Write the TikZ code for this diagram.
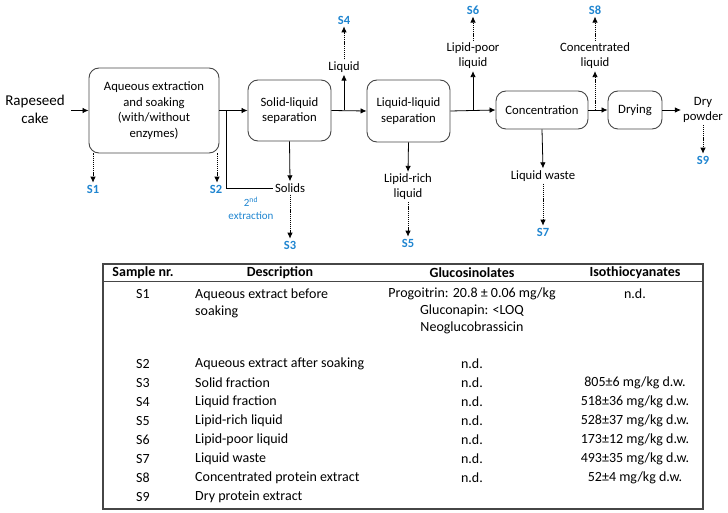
\documentclass[tikz,border=0pt]{standalone}
\usepackage{fontspec}
\setmainfont{Carlito}
\usepackage{tikz}
\usetikzlibrary{positioning, calc}
\usetikzlibrary{arrows, arrows.meta}
\definecolor{sblue}{RGB}{31,133,208}
\definecolor{boxgray}{RGB}{70,70,70}

\tikzset{
  proc/.style={draw=boxgray, line width=0.9pt, rounded corners=10pt, align=center,
    font=\fontsize{12.7}{15.5}\selectfont},
  lbl/.style={align=center, font=\fontsize{12.7}{15}\selectfont, inner sep=2pt},
  smp/.style={text=sblue, font=\bfseries\fontsize{12.5}{14}\selectfont, inner sep=2pt},
  flow/.style={-{Latex[length=6pt, width=5.5pt]}, line width=0.8pt},
  take/.style={-{Latex[length=6pt, width=5.5pt]}, line width=0.8pt, dash pattern=on 1.2pt off 0.9pt},
  tab/.style={font=\fontsize{14}{17}\selectfont, inner sep=1pt},
  tabhead/.style={font=\bfseries\fontsize{14}{17}\selectfont, inner sep=1pt},
}

\begin{document}
\begin{tikzpicture}[x=1pt, y=-1pt]
            \useasboundingbox (0,0) rectangle (728,513);
            % process chain
            \node[lbl, font=\fontsize{15}{18}\selectfont] (cake) at (35,109) {Rapeseed\\cake};
            \node[proc, minimum width=130pt, minimum height=85pt] (extr) at (154,110.5) {Aqueous extraction\\and soaking\\(with/without\\enzymes)};
            \node[proc, minimum width=83pt, minimum height=61pt] (slsep) at (289.5,110.5) {Solid-liquid\\separation};
            \node[proc, minimum width=83pt, minimum height=62pt] (llsep) at (408.5,111) {Liquid-liquid\\separation};
            \node[proc, minimum width=92pt, minimum height=38pt] (conc) at (542,110) {Concentration};
            \node[proc, minimum width=54pt, minimum height=38pt] (dry) at (635,110) {Drying};
            % streams
            \node[lbl] (liquid) at (344,67) {Liquid};
            \node[lbl] (solids) at (290,188) {Solids};
            \node[lbl] (lrich) at (408,187) {Lipid-rich\\liquid};
            \node[lbl] (lpoor) at (473,56) {Lipid-poor\\liquid};
            \node[lbl] (waste) at (543,176) {Liquid waste};
            \node[lbl] (cliq) at (595,56) {Concentrated\\liquid};
            \node[lbl] (powder) at (703,110) {Dry\\powder};
            \node[lbl, text=sblue, font=\fontsize{11}{13}\selectfont] (second) at (251,208) {2\textsuperscript{nd}\\extraction};
            % samples
            \node[smp] (s1) at (93,189) {S1};
            \node[smp] (s2) at (216,189) {S2};
            \node[smp] (s3) at (290,245) {S3};
            \node[smp] (s4) at (344,20) {S4};
            \node[smp] (s5) at (408,243) {S5};
            \node[smp] (s6) at (473,10) {S6};
            \node[smp] (s7) at (543,232) {S7};
            \node[smp] (s8) at (595,10) {S8};
            \node[smp] (s9) at (703,160) {S9};
            \coordinate (ret) at (226,110);
            \coordinate (b4) at (344,110);
            \coordinate (b6) at (473,110);
            \coordinate (b8) at (595,110);

            \draw[flow, shorten <=4pt] (cake.east |- extr.west) -- (extr.west);
            \draw[flow] (extr.east) -- (slsep.west);
            \draw[line width=0.8pt] (solids.west) -| (ret);
            \draw[flow] (slsep.east) -- (llsep.west);
            \draw[flow] (llsep.east) -- (conc.west);
            \draw[flow] (conc.east) -- (dry.west);
            \draw[flow] (dry.east) -- (powder.west);
            \draw[flow] (slsep.south) -- (solids.north);
            \draw[flow] (b4) -- (liquid.south);
            \draw[flow] (llsep.south) -- (lrich.north);
            \draw[flow] (b6) -- (lpoor.south);
            \draw[flow] (conc.south) -- (waste.north);

            \draw[take] (extr.south -| s1) -- (s1.north);
            \draw[take] (extr.south -| 217,0) -- (s2.north east -| 217,0);
            \draw[take] (solids.south) -- (s3.north);
            \draw[take] (liquid.north) -- (s4.south);
            \draw[take] (lrich.south) -- (s5.north);
            \draw[take] (lpoor.north) -- (s6.south);
            \draw[take] (waste.south) -- (s7.north);
            \draw[take] (b8) -- (cliq.south);
            \draw[take] (cliq.north) -- (s8.south);
            \draw[take] (powder.south) -- (s9.north);

            % sample table
            \draw[boxgray, line width=1.2pt] (103,264) rectangle (703,509);
            \draw[boxgray, line width=1pt] (103,281) -- (703,281);
            \node[tabhead] (hnr) at (143,273) {Sample nr.};
            \node[tabhead] (hdesc) at (280,273) {Description};
            \node[tabhead] (hglu) at (472,273) {Glucosinolates};
            \node[tabhead] (hiso) at (635,273) {Isothiocyanates};
            \node[tab] (nr0) at (143,294) {S1};
            \node[tab, anchor=west, align=left] (desc0) at (194,303) {Aqueous extract before\\soaking};
            \node[tab, align=center] (glu0) at (472,310.5) {Progoitrin: 20.8 ± 0.06 mg/kg\\Gluconapin: <LOQ\\Neoglucobrassicin};
            \node[tab] (iso0) at (635,294) {n.d.};
            \foreach \nr/\desc/\glu/\iso [count=\r] in {
                S2/Aqueous extract after soaking/n.d./{},
                S3/Solid fraction/n.d./{805±6 mg/kg d.w.},
                S4/Liquid fraction/n.d./{518±36 mg/kg d.w.},
                S5/Lipid-rich liquid/n.d./{528±37 mg/kg d.w.},
                S6/Lipid-poor liquid/n.d./{173±12 mg/kg d.w.},
                S7/Liquid waste/n.d./{493±35 mg/kg d.w.},
                S8/Concentrated protein extract/n.d./{52±4 mg/kg d.w.},
                S9/Dry protein extract/{}/{}}{
                \node[tab] (nr\r) at (143,{345+19*\r}) {\nr};
                \node[tab, anchor=west] (desc\r) at (194,{345+19*\r}) {\desc};
                \node[tab] (glu\r) at (472,{345+19*\r}) {\glu};
                \node[tab] (iso\r) at (635,{345+19*\r}) {\iso};
            }
\end{tikzpicture}
\end{document}
